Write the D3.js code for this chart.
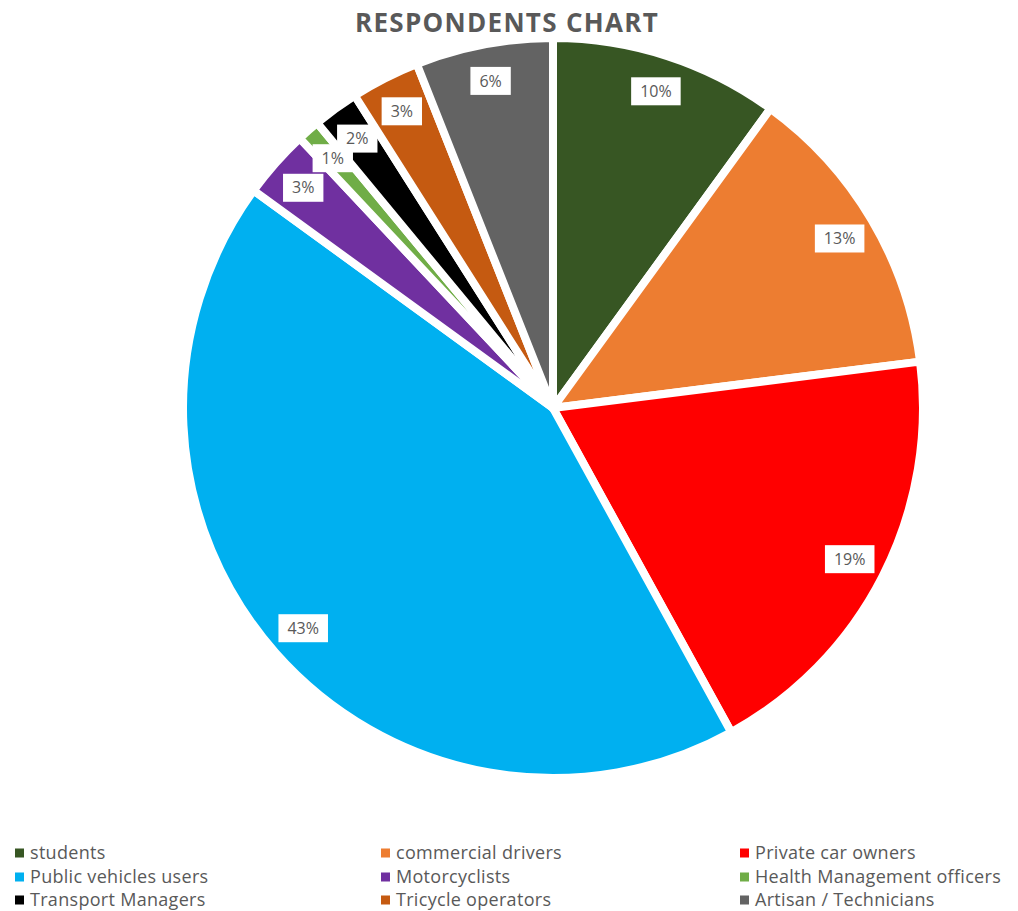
<!DOCTYPE html>
<html>
<head>
<meta charset="utf-8">
<script src="https://cdn.jsdelivr.net/npm/d3@7"></script>
<style>
  body { margin: 0; background: #fff; }
</style>
</head>
<body>
<div id="chart"></div>
<script>
const categories = [
    "students",
    "commercial drivers",
    "Private car owners",
    "Public vehicles users",
    "Motorcyclists",
    "Health Management officers",
    "Transport Managers",
    "Tricycle operators",
    "Artisan / Technicians"
];
const values = [10, 13, 19, 43, 3, 1, 2, 3, 6];
const colors = ["#375623", "#ED7D31", "#FF0000", "#00B0F0", "#7030A0", "#70AD47", "#000000", "#C55A11", "#636363"];
const title = "RESPONDENTS CHART";

const width = 1018, height = 911;
const cx = 553, cy = 408, radius = 370;

const data = categories.map((c, i) => ({ name: c, value: values[i], color: colors[i] }));

const svg = d3.select("#chart")
    .append("svg")
    .attr("width", width)
    .attr("height", height);

// Title
svg.append("text")
    .attr("x", 507)
    .attr("y", 32)
    .attr("text-anchor", "middle")
    .style("font-family", "'Open Sans', sans-serif")
    .style("font-weight", "bold")
    .style("font-size", "26px")
    .style("letter-spacing", "1.3px")
    .style("fill", "#595959")
    .text(title);

const pie = d3.pie()
    .sort(null)
    .value(d => d.value);

const arcs = pie(data);
const total = d3.sum(values);

const arc = d3.arc()
    .innerRadius(0)
    .outerRadius(radius);

const labelArc = d3.arc()
    .innerRadius(333)
    .outerRadius(333);

const g = svg.append("g")
    .attr("transform", `translate(${cx}, ${cy})`);

g.selectAll(".slice")
    .data(arcs)
    .enter()
    .append("path")
    .attr("class", "slice")
    .attr("d", arc)
    .style("fill", d => d.data.color)
    .style("stroke", "#fff")
    .style("stroke-width", 8)
    .style("stroke-linejoin", "round");

// Data labels in white boxes
const labels = g.selectAll(".label")
    .data(arcs)
    .enter()
    .append("g")
    .attr("class", "label")
    .attr("transform", d => `translate(${labelArc.centroid(d)})`);

labels.append("rect")
    .style("fill", "#fff");

const labelText = labels.append("text")
    .attr("text-anchor", "middle")
    .attr("dy", "0.35em")
    .style("font-family", "'Open Sans', sans-serif")
    .style("font-size", "16px")
    .style("fill", "#595959")
    .text(d => Math.round(d.data.value / total * 100) + "%");

// size each box to its text
labelText.each(function () {
    const w = this.getComputedTextLength() + 18;
    d3.select(this.parentNode).select("rect")
        .attr("x", -w / 2)
        .attr("y", -14)
        .attr("width", w)
        .attr("height", 28);
});

// Legend
const legendX = [15, 381, 740];
const legendY = [853, 877, 900];

const legend = svg.selectAll(".legend")
    .data(data)
    .enter()
    .append("g")
    .attr("class", "legend")
    .attr("transform", (d, i) => `translate(${legendX[i % 3]}, ${legendY[Math.floor(i / 3)]})`);

legend.append("rect")
    .attr("x", 0)
    .attr("y", -4.5)
    .attr("width", 9)
    .attr("height", 9)
    .style("fill", d => d.color);

legend.append("text")
    .attr("x", 15)
    .attr("dy", "0.35em")
    .style("font-family", "'Open Sans', sans-serif")
    .style("font-size", "18px")
    .style("letter-spacing", "0.3px")
    .style("fill", "#595959")
    .text(d => d.name);
</script>
</body>
</html>
